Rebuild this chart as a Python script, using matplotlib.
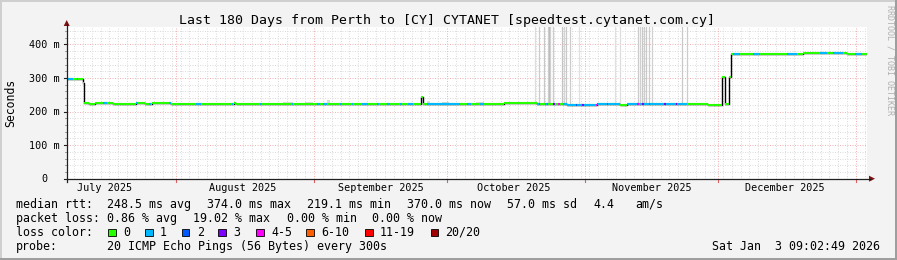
import matplotlib
matplotlib.use("Agg")
import matplotlib.pyplot as plt
import matplotlib.dates as mdates
import matplotlib.transforms as mtrans
from matplotlib.collections import LineCollection
from matplotlib.patches import Rectangle, Polygon
from matplotlib.lines import Line2D
from datetime import datetime, timedelta

W, H, DPI = 897, 260, 100
MONO = "DejaVu Sans Mono"

# ---------------- data ----------------
title = "Last 180 Days from Perth to [CY] CYTANET [speedtest.cytanet.com.cy]"
ylabel = "Seconds"
start = datetime(2025, 7, 7, 9, 2, 49)
span_days = 180
y_max = 452.7
y_ticks = [0, 100, 200, 300, 400]
y_tick_labels = ["0", "100 m", "200 m", "300 m", "400 m"]
month_labels = ["July 2025", "August 2025", "September 2025",
                "October 2025", "November 2025", "December 2025"]
month_label_dates = [datetime(2025, 7, 16), datetime(2025, 8, 16), datetime(2025, 9, 16),
                     datetime(2025, 10, 16), datetime(2025, 11, 16), datetime(2025, 12, 16)]
month_starts = [datetime(2025, 8, 1), datetime(2025, 9, 1), datetime(2025, 10, 1),
                datetime(2025, 11, 1), datetime(2025, 12, 1), datetime(2026, 1, 1)]

# median RTT (ms) as change points (days since start)
med_days = [0.0, 3.6, 4.0, 5.1, 6.4, 10.4, 15.6, 17.6, 19.1, 23.5, 37.6, 38.1,
            79.8, 80.1, 98.4, 105.8, 112.6, 119.3, 124.5, 126.1, 132.8, 139.6,
            144.3, 147.4, 148.1, 149.1, 149.4, 165.7, 175.6]
med_vals = [298, 286, 224, 221, 224, 221, 224, 221, 224, 221, 224, 221,
            243, 222, 224, 223, 220, 223, 220, 223, 221, 223,
            219, 302, 223, 302, 370, 373, 370]
data_end = 180.0

# packet-loss intervals (days since start) and loss class index
loss_from = [0.0, 2.4, 8.2, 15.6, 18.6, 23.1, 29.2, 37.1, 43.5, 50.6, 56.3, 57.7,
             61.5, 64.1, 66.4, 69.8, 72.0, 75.0, 76.9, 81.0, 84.0, 90.0, 93.0,
             105.8, 106.2, 107.6, 108.0, 109.5, 110.6, 111.7, 114.5, 116.0,
             119.2, 119.5, 121.5, 126.1, 128.4, 129.5, 131.0, 132.8, 134.5,
             137.0, 150.0, 154.5, 162.0, 169.5, 172.5, 177.4]
loss_to = [1.5, 2.6, 9.0, 16.1, 18.9, 23.5, 30.3, 37.5, 43.9, 51.0, 57.0, 58.5,
           61.9, 64.5, 67.9, 70.2, 72.7, 75.4, 78.0, 86.3, 88.5, 91.0, 94.0,
           106.2, 106.6, 108.0, 108.4, 109.8, 111.0, 119.2, 114.8, 116.3,
           119.5, 124.5, 121.8, 132.8, 128.8, 129.8, 131.3, 139.6, 134.8,
           137.3, 151.5, 156.0, 164.3, 171.0, 174.7, 179.0]
loss_class = [1, 1, 1, 1, 1, 1, 1, 1, 1, 1, 1, 1,
              1, 1, 1, 1, 1, 1, 1, 1, 1, 1, 1,
              1, 4, 1, 4, 3, 4, 1, 2, 3,
              4, 1, 2, 1, 4, 3, 4, 1, 3,
              3, 1, 1, 1, 1, 1, 1]
loss_names = ["0", "1", "2", "3", "4-5", "6-10", "11-19", "20/20"]
loss_colors = ["#26ff00", "#00b8ff", "#0059ff", "#7e00ff",
               "#ff00ff", "#ff5e00", "#ff0000", "#a00000"]

# smoke: days with ping spread reaching above the chart (days since start)
smoke_days = [105.4, 106.3, 107.5, 108.2, 108.5, 108.8, 109.5, 111.5, 111.8, 112.4,
              113.3, 115.3, 123.4, 124.5, 128.5, 128.9, 129.5, 129.8, 130.3, 131.0,
              131.7, 138.5, 139.5]
smoke_shade = ["#dddddd", "#cccccc", "#c8c8c8", "#d0d0d0", "#bbbbbb", "#d0d0d0",
               "#cccccc", "#c4c4c4", "#d4d4d4", "#c8c8c8", "#cccccc", "#e0e0e0",
               "#e0e0e0", "#dddddd", "#cccccc", "#d0d0d0", "#c8c8c8", "#cccccc",
               "#c8c8c8", "#cccccc", "#d0d0d0", "#c8c8c8", "#cccccc"]
smoke_top = 600
# small smoke patches just above the median
puff_from = [48.7, 53.6, 58.5, 81.0, 84.5, 92.0, 100.0]
puff_to = [51.0, 55.5, 59.3, 81.8, 86.0, 94.0, 103.0]
puff_top = [229, 228, 234, 232, 227, 227, 228]

stats_rows = [
    [("median rtt:", 16), ("248.5 ms avg", 107.3), ("374.0 ms max", 207),
     ("219.1 ms min", 307.3), ("370.0 ms now", 407), ("57.0 ms sd", 506.7),
     ("4.4", 593.3), ("am/s", 635)],
    [("packet loss:", 16), ("0.86 % avg", 107.3), ("19.02 % max", 193),
     ("0.00 % min", 286.7), ("0.00 % now", 372.3)],
]
probe_text = "20 ICMP Echo Pings (56 Bytes) every 300s"
stamp = "Sat Jan  3 09:02:49 2026"
credit = "RRDTOOL / TOBI OETIKER"

# ---------------- layout ----------------
L, R, T, B = 66.7, 866.7, 26.7, 178.7
fig = plt.figure(figsize=(W / DPI, H / DPI), dpi=DPI)
fig.patch.set_facecolor("#f3f3f3")


def fx(px):
    return px / W


def fy(py):
    return 1 - py / H


# frame shading
fig.add_artist(Rectangle((0, fy(2)), 1, 2 / H, transform=fig.transFigure, color="#cfcfcf", lw=0))
fig.add_artist(Rectangle((0, 0), 2 / W, 1, transform=fig.transFigure, color="#cfcfcf", lw=0))
fig.add_artist(Rectangle((0, 0), 1, 2 / H, transform=fig.transFigure, color="#9e9e9e", lw=0))
fig.add_artist(Rectangle((fx(W - 2), 0), 2 / W, 1, transform=fig.transFigure, color="#9e9e9e", lw=0))

ax = fig.add_axes([fx(L), fy(B), (R - L) / W, (B - T) / H])
ax.set_facecolor("white")
x0 = mdates.date2num(start)
x1 = x0 + span_days
ax.set_xlim(x0, x1)
ax.set_ylim(0, y_max)
for s in ax.spines.values():
    s.set_visible(False)
ax.set_xticks([])
ax.set_yticks([])

# grid
dots = (0, (1, 1.5))
for v in range(0, int(y_max) + 1, 20):
    if v % 100:
        ax.axhline(v, color="#dcdcdc", lw=0.72, ls=dots, zorder=1)
epoch = datetime(1970, 1, 1)
d = datetime(2025, 7, 6)
while d < datetime(2026, 1, 5):
    if (d - epoch).days % 2 == 0 and d not in month_starts:
        ax.axvline(mdates.date2num(d), color="#dcdcdc", lw=0.72, ls=dots, zorder=1)
    d += timedelta(days=1)
for v in y_ticks[1:]:
    ax.axhline(v, color="#f2b4b4", lw=0.72, ls=dots, zorder=1.5)
for m in month_starts:
    ax.axvline(mdates.date2num(m), color="#f2b4b4", lw=0.72, ls=dots, zorder=1.5)


def med_at(day):
    val = med_vals[0]
    for dd, vv in zip(med_days, med_vals):
        if dd <= day:
            val = vv
    return val


# smoke
ax.vlines([x0 + dd for dd in smoke_days], [med_at(dd) for dd in smoke_days], smoke_top,
          colors=smoke_shade, lw=0.9, zorder=2)
for a, b, top in zip(puff_from, puff_to, puff_top):
    ax.fill_between([x0 + a, x0 + b], [med_at(a)] * 2, [top] * 2, color="#dcdcdc", lw=0, zorder=2)

# median line
bounds = med_days + [data_end]
xs = [x0 + dd for dd in bounds]
ax.step(xs, med_vals + [med_vals[-1]], where="post", color="#000000", lw=1.0, zorder=4)
segs = [[(xs[i], med_vals[i]), (xs[i + 1], med_vals[i])] for i in range(len(med_vals))]
ax.add_collection(LineCollection(segs, colors=loss_colors[0], lw=1.5, capstyle="butt", zorder=5))
lsegs, lcols = [], []
for a, b, c in zip(loss_from, loss_to, loss_class):
    for i in range(len(med_vals)):
        s0, e0 = max(a, bounds[i]), min(b, bounds[i + 1])
        if e0 > s0:
            lsegs.append([(x0 + s0, med_vals[i]), (x0 + e0, med_vals[i])])
            lcols.append(loss_colors[c])
ax.add_collection(LineCollection(lsegs, colors=lcols, lw=1.5, capstyle="butt", zorder=6))

# axes lines + arrows
fig.add_artist(Line2D([fx(L), fx(871)], [fy(B), fy(B)], transform=fig.transFigure, color="#202020", lw=0.9))
fig.add_artist(Line2D([fx(L), fx(L)], [fy(B + 3), fy(24)], transform=fig.transFigure, color="#202020", lw=0.9))
fig.add_artist(Polygon([(fx(L - 3), fy(26)), (fx(L + 3), fy(26)), (fx(L), fy(20))],
                       closed=True, transform=fig.transFigure, color="#7f1010", lw=0))
fig.add_artist(Polygon([(fx(869), fy(B - 3)), (fx(869), fy(B + 3)), (fx(875), fy(B))],
                       closed=True, transform=fig.transFigure, color="#7f1010", lw=0))

# y tick marks and labels
yb = mtrans.blended_transform_factory(ax.transAxes, ax.transData)
for v, lab in zip(y_ticks, y_tick_labels):
    ax.add_line(Line2D([-3 / (R - L), 0], [v, v], transform=yb, color="#202020", lw=0.8, clip_on=False))
    off = mtrans.ScaledTranslation(0, -3.6 / DPI, fig.dpi_scale_trans)
    xr = (60 - L) / (R - L) if lab != "0" else (48 - L) / (R - L)
    ax.text(xr, v, lab, transform=yb + off, ha="right", va="baseline",
            family=MONO, fontsize=7.3, color="#000000", clip_on=False)
for v in range(20, int(y_max), 20):
    if v % 100:
        ax.add_line(Line2D([-2 / (R - L), 0], [v, v], transform=yb, color="#a0a0a0", lw=0.7, clip_on=False))

# x tick marks & labels
xb = mtrans.blended_transform_factory(ax.transData, ax.transAxes)
for m in month_starts:
    xm = mdates.date2num(m)
    ax.add_line(Line2D([xm, xm], [0, -3 / (B - T)], transform=xb, color="#e06060", lw=0.8, clip_on=False))
for dt, lab in zip(month_label_dates, month_labels):
    ax.text(mdates.date2num(dt), -(190.7 - B) / (B - T), lab, transform=xb, ha="center", va="baseline",
            family=MONO, fontsize=7.3, color="#000000", clip_on=False)

# title, y label, credit
fig.text(fx(446.7), fy(24), title, ha="center", va="baseline", family=MONO, fontsize=9.5)
fig.text(fx(10.5), fy(103), ylabel, ha="center", va="center", rotation=90, family=MONO, fontsize=8.3)
fig.text(fx(890), fy(60), credit, ha="center", va="center", rotation=270, family=MONO,
         fontsize=6.0, color="#b0b0b0")

# legend / stats
base = [207.7, 221.8, 235.9, 250.0]
for row, yb_ in zip(stats_rows, base):
    for txt, xp in row:
        fig.text(fx(xp), fy(yb_), txt, ha="left", va="baseline", family=MONO, fontsize=8.33)
fig.text(fx(16), fy(base[2]), "loss color:", ha="left", va="baseline", family=MONO, fontsize=8.33)
box_x = [108.3, 145.0, 181.7, 218.3, 256.0, 306.0, 365.0, 430.5]
lab_x = [123.3, 160.0, 196.7, 233.3, 271.0, 321.0, 380.0, 445.0]
for bx, lx, name, col in zip(box_x, lab_x, loss_names, loss_colors):
    fig.add_artist(Rectangle((fx(bx), fy(236)), 7.5 / W, 7.5 / H, transform=fig.transFigure,
                             facecolor=col, edgecolor="#000000", lw=0.6))
    fig.text(fx(lx), fy(base[2]), name, ha="left", va="baseline", family=MONO, fontsize=8.33)
fig.text(fx(16), fy(base[3]), "probe:", ha="left", va="baseline", family=MONO, fontsize=8.33)
fig.text(fx(107.3), fy(base[3]), probe_text, ha="left", va="baseline", family=MONO, fontsize=8.33)
fig.text(fx(880), fy(base[3]), stamp, ha="right", va="baseline", family=MONO, fontsize=8.33)

fig.savefig("out.png", dpi=DPI, facecolor=fig.get_facecolor())
